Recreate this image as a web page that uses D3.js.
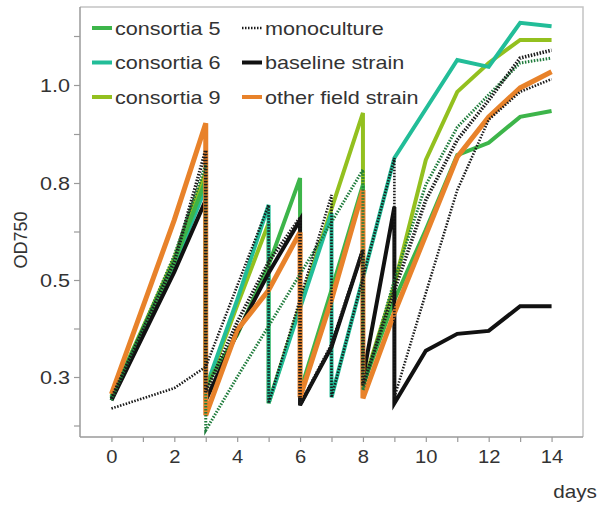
<!DOCTYPE html>
<html>
<head>
<meta charset="utf-8">
<script src="https://cdn.jsdelivr.net/npm/d3@7"></script>
<style>
  body { margin: 0; background: #fff; }
  svg { display: block; }
  text { font-family: "Liberation Sans", Arial, Helvetica, sans-serif; fill: #333; }
</style>
</head>
<body>
<svg id="chart" width="597" height="505"></svg>
<script>
// Axis ticks
const dayTicks = [0,1,2,3,4,5,6,7,8,9,10,11,12,13,14];
const dayLabels = [0,2,4,6,8,10,12,14];
const odMajor = [0.3, 0.5, 0.8, 1.0];
const odMinor = [0.2, 0.4, 0.65, 0.9, 1.1];

// OD750 readings per culture; a repeated day marks a dilution (before, after)
const c5Days = [0,2,3,3,4,5,6,6,7,8,8,9,10,11,12,13,14];
const c5OD   = [0.260,0.556,0.806,0.283,0.387,0.546,0.810,0.269,0.479,0.794,0.283,0.459,0.655,0.857,0.882,0.935,0.947];

const c6Days = [0,2,3,3,4,5,5,6,7,7,8,9,10,11,12,13,14];
const c6OD   = [0.256,0.546,0.785,0.277,0.459,0.732,0.246,0.442,0.707,0.258,0.506,0.851,0.951,1.051,1.037,1.127,1.120];

const c9Days = [0,2,3,3,4,5,5,6,7,8,8,9,10,11,12,13,14];
const c9OD   = [0.258,0.568,0.822,0.273,0.448,0.676,0.246,0.448,0.720,0.943,0.283,0.490,0.847,0.986,1.045,1.092,1.092];

const baseDays = [0,2,3,3,4,5,6,6,7,8,8,9,9,10,11,12,13,14];
const baseOD   = [0.252,0.525,0.747,0.252,0.391,0.522,0.686,0.242,0.362,0.593,0.298,0.726,0.246,0.354,0.389,0.395,0.446,0.446];

const fieldDays = [0,2,3,3,4,5,6,6,7,8,8,9,10,11,12,13,14];
const fieldOD   = [0.265,0.686,0.922,0.221,0.397,0.479,0.648,0.258,0.459,0.778,0.256,0.432,0.639,0.853,0.935,0.994,1.027];

// Monoculture controls
const monoADays = [0,2,3,5,5,7,7,9,9,10,11,12,13,14];
const monoAOD   = [0.235,0.277,0.321,0.732,0.246,0.763,0.258,0.851,0.258,0.473,0.778,0.929,0.986,1.012];

const monoBDays = [0,2,3,3,4,5,6,6,7,8,8,9,10,11,12,13,14];
const monoBOD   = [0.256,0.556,0.867,0.269,0.413,0.556,0.692,0.242,0.366,0.593,0.283,0.479,0.747,0.888,0.969,1.055,1.071];

const monoCDays = [0,2,3,3,4,5,6,7,8,8,9,10,11,12,13,14];
const monoCOD   = [0.252,0.577,0.837,0.190,0.300,0.405,0.518,0.679,0.827,0.273,0.500,0.794,0.914,0.980,1.045,1.055];

const legendLeft  = ["consortia 5", "consortia 6", "consortia 9"];
const legendRight = ["monoculture", "baseline strain", "other field strain"];

// Styles
const style = {
  "consortia 5":        { color: "#3db54a", width: 4 },
  "consortia 6":        { color: "#22bd98", width: 4 },
  "consortia 9":        { color: "#93c01f", width: 4 },
  "baseline strain":    { color: "#111111", width: 4 },
  "other field strain": { color: "#e8822a", width: 5 },
  "monoculture":        { color: "#1a1a1a", width: 3.6, dash: "1.5,1.5" }
};

const series = [
  { name: "consortia 9", days: c9Days, od: c9OD },
  { name: "consortia 6", days: c6Days, od: c6OD },
  { name: "consortia 5", days: c5Days, od: c5OD },
  { name: "baseline strain", days: baseDays, od: baseOD },
  { name: "other field strain", days: fieldDays, od: fieldOD },
  { name: "monoculture", days: monoCDays, od: monoCOD, color: "#1e7b3b", width: 3 },
  { name: "monoculture", days: monoBDays, od: monoBOD },
  { name: "monoculture", days: monoADays, od: monoAOD, width: 2.6 }
];

const svg = d3.select("#chart");
const plotL = 80, plotR = 583, plotT = 7, plotB = 437;

const x = d3.scaleLinear().domain([-1, 15]).range([plotL, plotR]);
const y = d3.scaleLinear().domain([0.3, 0.5, 0.8, 1.0]).range([377, 280, 183, 85]);

// Plot frame (top and right)
svg.append("path")
  .attr("d", `M${plotL},${plotT}H${plotR}V${plotB}`)
  .attr("fill", "none").attr("stroke", "#c4c4c4").attr("stroke-width", 1.5);

// X axis
const gx = svg.append("g").attr("transform", `translate(0,${plotB})`)
  .call(d3.axisBottom(x).tickValues(dayTicks).tickSize(5).tickSizeOuter(0)
    .tickFormat(d => dayLabels.includes(d) ? String(d) : ""));
gx.select(".domain").attr("d", `M${plotL},0H${plotR}`).attr("stroke", "#9a9a9a").attr("stroke-width", 1.5);
gx.selectAll(".tick line").attr("stroke", "#9a9a9a").attr("stroke-width", 1.2);
gx.selectAll(".tick text").attr("y", 26).attr("dy", null)
  .attr("font-size", 18).attr("fill", "#333")
  .attr("transform", "scale(1.12,1)");

// Y axis
const gy = svg.append("g").attr("transform", `translate(${plotL},0)`)
  .call(d3.axisLeft(y).tickValues(odMinor.concat(odMajor)).tickSize(6).tickSizeOuter(0)
    .tickFormat(d => odMajor.includes(d) ? d.toFixed(1) : ""));
gy.select(".domain").attr("d", `M0,${plotT}V${plotB}`).attr("stroke", "#9a9a9a").attr("stroke-width", 1.5);
gy.selectAll(".tick line").attr("stroke", "#9a9a9a").attr("stroke-width", 1.2);
gy.selectAll(".tick text").attr("x", -8.3).attr("dy", "0.36em")
  .attr("font-size", 18).attr("fill", "#333")
  .attr("transform", "scale(1.2,1)");

// Axis titles
svg.append("text")
  .attr("transform", "translate(27,240) rotate(-90)")
  .attr("text-anchor", "middle").attr("font-size", 18).text("OD750");
svg.append("text")
  .attr("transform", "translate(575,498) scale(1.15,1)")
  .attr("text-anchor", "middle").attr("font-size", 18).text("days");

// Lines
const line = d3.line().x(d => x(d[0])).y(d => y(d[1]));
const gLines = svg.append("g");
series.forEach(s => {
  const st = style[s.name];
  gLines.append("path")
    .datum(d3.zip(s.days, s.od))
    .attr("d", line)
    .attr("fill", "none")
    .attr("stroke", s.color || st.color)
    .attr("stroke-width", s.width || st.width)
    .attr("stroke-dasharray", st.dash || null)
    .attr("stroke-linejoin", "miter");
});

// Legend
const gLeg = svg.append("g");
function legendItem(name, lx, ly) {
  const st = style[name];
  gLeg.append("line")
    .attr("x1", lx).attr("x2", lx + 20).attr("y1", ly).attr("y2", ly)
    .attr("stroke", st.color)
    .attr("stroke-width", st.dash ? 2.4 : 4)
    .attr("stroke-dasharray", st.dash || null);
  gLeg.append("text")
    .attr("transform", `translate(${lx + 23},${ly + 6.5}) scale(1.2,1)`)
    .attr("font-size", 18).text(name);
}
legendLeft.forEach((n, i) => legendItem(n, 92, 28 + i * 34.5));
legendRight.forEach((n, i) => legendItem(n, 242, 28 + i * 34.5));
</script>
</body>
</html>
